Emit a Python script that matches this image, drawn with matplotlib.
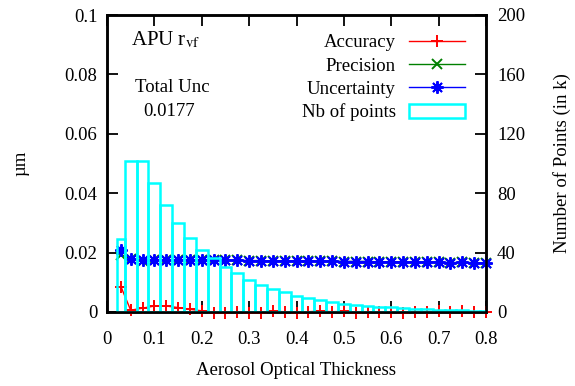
import numpy as np
import matplotlib
matplotlib.use("Agg")
import matplotlib.pyplot as plt
from matplotlib.lines import Line2D
from matplotlib.patches import Patch

plt.rcParams['font.family'] = ['Liberation Serif', 'DejaVu Serif']
plt.rcParams['mathtext.fontset'] = 'stix'

aod = [0.03, 0.05, 0.075, 0.1, 0.125, 0.15, 0.175, 0.2, 0.225, 0.25, 0.275, 0.3,
       0.325, 0.35, 0.375, 0.4, 0.425, 0.45, 0.475, 0.5, 0.525, 0.55, 0.575, 0.6,
       0.625, 0.65, 0.675, 0.7, 0.725, 0.75, 0.775, 0.8]
accuracy = [0.0083, 0.0006, 0.0013, 0.0020, 0.0020, 0.0015, 0.0009, 0.0004, -0.0002, -0.0004, 0.0001, -0.0002,
            -0.0003, 0.0002, 0.0001, -0.0002, 0.0001, 0.0003, 0.0001, 0.0002, -0.0002, 0.0001, -0.0001, 0.0000,
            -0.0002, 0.0001, 0.0000, 0.0002, 0.0001, 0.0002, 0.0001, 0.0001]
uncertainty = [0.0208, 0.0179, 0.0174, 0.0175, 0.0175, 0.0175, 0.0176, 0.0176, 0.0175, 0.0174, 0.0174, 0.0173,
               0.0173, 0.0172, 0.0172, 0.0172, 0.0171, 0.0171, 0.0171, 0.0170, 0.0170, 0.0170, 0.0169, 0.0169,
               0.0168, 0.0167, 0.0168, 0.0167, 0.0166, 0.0167, 0.0166, 0.0166]
precision = [0.0193, 0.0178, 0.0173, 0.0174, 0.0174, 0.0174, 0.0175, 0.0176, 0.0175, 0.0174, 0.0174, 0.0173,
             0.0173, 0.0172, 0.0172, 0.0172, 0.0171, 0.0171, 0.0171, 0.0170, 0.0170, 0.0170, 0.0169, 0.0169,
             0.0168, 0.0167, 0.0168, 0.0167, 0.0166, 0.0167, 0.0166, 0.0166]
npoints = [49, 102, 102, 87, 72, 60, 50, 42, 36.5, 30.5, 26, 21.8,
           18.4, 15.6, 13.2, 11, 9.2, 7.8, 6.6, 5.6, 4.8, 4.2, 3.6, 3.1,
           2.6, 2.2, 1.9, 1.6, 1.3, 1.1, 0.9, 0.7]
bar_width = [0.0175] + [0.025] * 31

xticks = [0, 0.1, 0.2, 0.3, 0.4, 0.5, 0.6, 0.7, 0.8]
yticks = [0, 0.02, 0.04, 0.06, 0.08, 0.1]
y2ticks = [0, 40, 80, 120, 160, 200]

fig = plt.figure(figsize=(5.75, 3.86), dpi=100)
ax = fig.add_axes([107/575, 1 - 312/386, (486-107)/575, (312-15)/386])
ax2 = ax.twinx()

fs = 13.5
star = (8, 2, 0)
ax.plot(aod, accuracy, color='#ff0000', marker='+', ms=9, mew=1.4, lw=1.0, clip_on=False, zorder=3)
ax.plot(aod, precision, color='#008000', marker='x', ms=7, mew=1.4, lw=1.0, clip_on=False, zorder=4)
ax.plot(aod, uncertainty, color='#0000ff', marker=star, ms=9, mew=1.4, lw=1.0, clip_on=False, zorder=5)

ax2.bar(aod, npoints, width=bar_width, fill=False, edgecolor='#00ffff', linewidth=1.8, zorder=2)

ax.set_xlim(0, 0.8)
ax.set_ylim(0, 0.1)
ax2.set_ylim(0, 200)
ax.set_xticks(xticks)
ax.set_xticklabels(['0', '0.1', '0.2', '0.3', '0.4', '0.5', '0.6', '0.7', '0.8'])
ax.set_yticks(yticks)
ax.set_yticklabels(['0', '0.02', '0.04', '0.06', '0.08', '0.1'])
ax2.set_yticks(y2ticks)
ax2.set_yticklabels([str(v) for v in y2ticks])

ax.tick_params(axis='y', direction='in', length=8, width=1.3, labelsize=fs, pad=7, right=False)
ax.tick_params(axis='x', direction='in', length=8, width=1.3, labelsize=fs, pad=14, top=True)
ax2.tick_params(axis='y', direction='in', length=8, width=1.3, labelsize=fs, pad=8)
for a in (ax, ax2):
    for s in a.spines.values():
        s.set_linewidth(1.8)

ax.set_xlabel('Aerosol Optical Thickness', fontsize=fs, labelpad=10)
ax.set_ylabel('µm', fontsize=fs, labelpad=25)
ax2.set_ylabel('Number of Points (in k)', fontsize=fs, labelpad=20)

ax.text(0.051, 0.0915, 'APU r$_{\\mathrm{vf}}$', fontsize=fs + 1.5, ha='left', va='center')
ax.text(0.137, 0.0755, 'Total Unc', fontsize=fs, ha='center', va='center')
ax.text(0.132, 0.0675, '0.0177', fontsize=fs, ha='center', va='center')

handles = [
    Line2D([], [], color='#ff0000', marker='+', ms=9, mew=1.4, lw=1.0),
    Line2D([], [], color='#008000', marker='x', ms=7, mew=1.4, lw=1.0),
    Line2D([], [], color='#0000ff', marker=star, ms=9, mew=1.4, lw=1.0),
    Patch(facecolor='none', edgecolor='#00ffff', linewidth=1.8),
]
labels = ['Accuracy', 'Precision', 'Uncertainty', 'Nb of points']
leg = ax2.legend(handles, labels, loc='upper right', bbox_to_anchor=(0.975, 0.975),
                 frameon=False, markerfirst=False, fontsize=fs, handlelength=3.0,
                 handleheight=0.8, labelspacing=0.3, handletextpad=0.7, borderaxespad=0.2)

fig.savefig('out.png', dpi=100)
